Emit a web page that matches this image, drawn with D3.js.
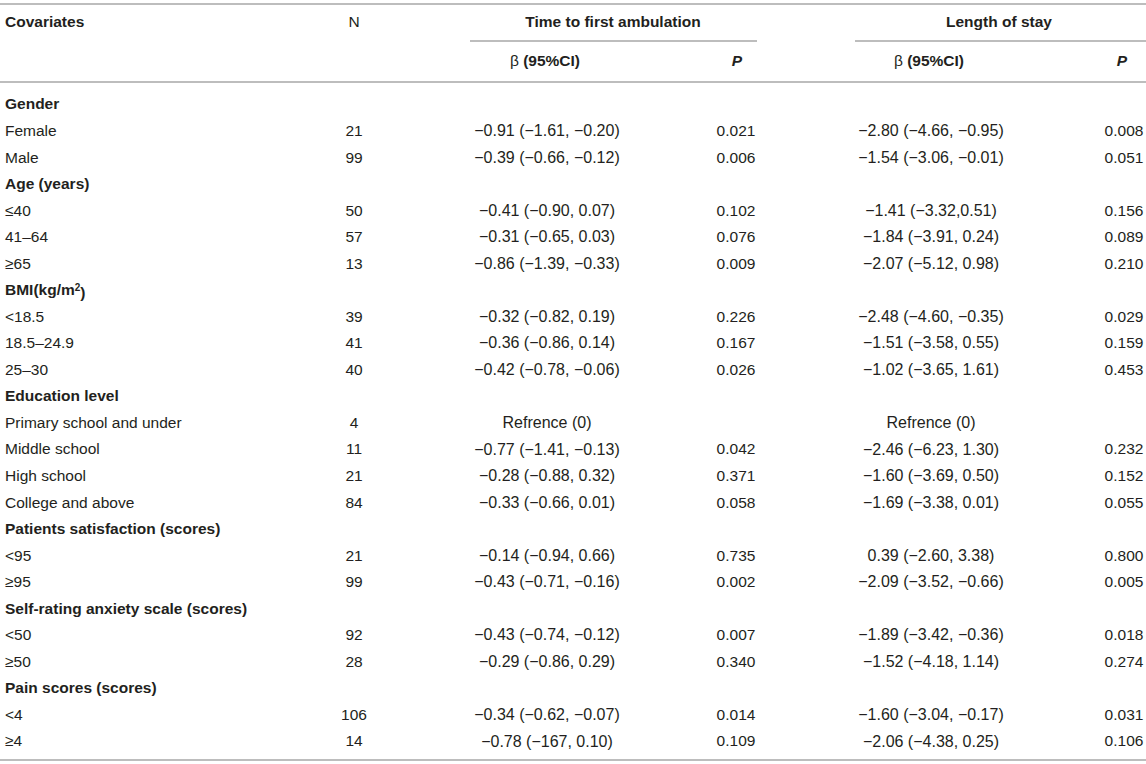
<!DOCTYPE html>
<html>
<head>
<meta charset="utf-8">
<script src="https://cdn.jsdelivr.net/npm/d3@7"></script>
<style>
  body { margin: 0; background: #fff; }
  text { font-family: "Liberation Sans", Arial, Helvetica, sans-serif; font-size: 15.5px; fill: #231f20; }
</style>
</head>
<body>
<script>
// table content
const rowLabels = ["Gender", "Female", "Male",
  "Age (years)", "≤40", "41–64", "≥65",
  "BMI(kg/m2)", "<18.5", "18.5–24.9", "25–30",
  "Education level", "Primary school and under", "Middle school", "High school", "College and above",
  "Patients satisfaction (scores)", "<95", "≥95",
  "Self-rating anxiety scale (scores)", "<50", "≥50",
  "Pain scores (scores)", "<4", "≥4"];
const groupRows = ["Gender", "Age (years)", "BMI(kg/m2)", "Education level",
  "Patients satisfaction (scores)", "Self-rating anxiety scale (scores)", "Pain scores (scores)"];
const nValues = ["", "21", "99", "", "50", "57", "13", "", "39", "41", "40",
  "", "4", "11", "21", "84", "", "21", "99", "", "92", "28", "", "106", "14"];
const betaAmbulation = ["", "−0.91 (−1.61, −0.20)", "−0.39 (−0.66, −0.12)",
  "", "−0.41 (−0.90, 0.07)", "−0.31 (−0.65, 0.03)", "−0.86 (−1.39, −0.33)",
  "", "−0.32 (−0.82, 0.19)", "−0.36 (−0.86, 0.14)", "−0.42 (−0.78, −0.06)",
  "", "Refrence (0)", "−0.77 (−1.41, −0.13)", "−0.28 (−0.88, 0.32)", "−0.33 (−0.66, 0.01)",
  "", "−0.14 (−0.94, 0.66)", "−0.43 (−0.71, −0.16)",
  "", "−0.43 (−0.74, −0.12)", "−0.29 (−0.86, 0.29)",
  "", "−0.34 (−0.62, −0.07)", "−0.78 (−167, 0.10)"];
const pAmbulation = ["", "0.021", "0.006", "", "0.102", "0.076", "0.009",
  "", "0.226", "0.167", "0.026", "", "", "0.042", "0.371", "0.058",
  "", "0.735", "0.002", "", "0.007", "0.340", "", "0.014", "0.109"];
const betaStay = ["", "−2.80 (−4.66, −0.95)", "−1.54 (−3.06, −0.01)",
  "", "−1.41 (−3.32,0.51)", "−1.84 (−3.91, 0.24)", "−2.07 (−5.12, 0.98)",
  "", "−2.48 (−4.60, −0.35)", "−1.51 (−3.58, 0.55)", "−1.02 (−3.65, 1.61)",
  "", "Refrence (0)", "−2.46 (−6.23, 1.30)", "−1.60 (−3.69, 0.50)", "−1.69 (−3.38, 0.01)",
  "", "0.39 (−2.60, 3.38)", "−2.09 (−3.52, −0.66)",
  "", "−1.89 (−3.42, −0.36)", "−1.52 (−4.18, 1.14)",
  "", "−1.60 (−3.04, −0.17)", "−2.06 (−4.38, 0.25)"];
const pStay = ["", "0.008", "0.051", "", "0.156", "0.089", "0.210",
  "", "0.029", "0.159", "0.453", "", "", "0.232", "0.152", "0.055",
  "", "0.800", "0.005", "", "0.018", "0.274", "", "0.031", "0.106"];

const width = 1146, height = 764;
const lineColor = "#bdbdbd";

const svg = d3.select("body").append("svg")
  .attr("width", width)
  .attr("height", height);

// row positions
const yScale = d3.scalePoint()
  .domain(d3.range(rowLabels.length))
  .range([104, 741]);

// column centres
const cols = [
  { values: nValues, x: 354, size: "15.5px" },
  { values: betaAmbulation, x: 547, size: "16px" },
  { values: pAmbulation, x: 736, size: "15.5px" },
  { values: betaStay, x: 931, size: "16px" },
  { values: pStay, x: 1124, size: "15.5px" }
];

// rules
const rules = [
  { x1: 0, x2: width, y: 4 },
  { x1: 470, x2: 757, y: 41 },
  { x1: 855, x2: width, y: 41 },
  { x1: 0, x2: width, y: 82 },
  { x1: 0, x2: width, y: 760 }
];
svg.selectAll("line.rule")
  .data(rules)
  .enter().append("line")
  .attr("class", "rule")
  .attr("x1", d => d.x1)
  .attr("x2", d => d.x2)
  .attr("y1", d => d.y)
  .attr("y2", d => d.y)
  .style("stroke", lineColor)
  .style("stroke-width", 2);

// header
const head = svg.append("g");
head.append("text").attr("x", 5).attr("y", 22).attr("dy", "0.35em")
  .style("font-weight", "bold").text("Covariates");
head.append("text").attr("x", 354).attr("y", 22).attr("dy", "0.35em")
  .style("text-anchor", "middle").text("N");
head.append("text").attr("x", 613).attr("y", 22).attr("dy", "0.35em")
  .style("text-anchor", "middle").style("font-weight", "bold").text("Time to first ambulation");
head.append("text").attr("x", 999).attr("y", 22).attr("dy", "0.35em")
  .style("text-anchor", "middle").style("font-weight", "bold").text("Length of stay");

[545, 929].forEach(x => {
  const t = head.append("text").attr("x", x).attr("y", 61).attr("dy", "0.35em")
    .style("text-anchor", "middle");
  t.append("tspan").text("β ");
  t.append("tspan").style("font-weight", "bold").text("(95%CI)");
});
[737, 1122].forEach(x => {
  head.append("text").attr("x", x).attr("y", 61).attr("dy", "0.35em")
    .style("text-anchor", "middle").style("font-weight", "bold")
    .style("font-style", "italic").text("P");
});

// covariate labels
const labels = svg.selectAll("text.label")
  .data(rowLabels)
  .enter().append("text")
  .attr("class", "label")
  .attr("x", 5)
  .attr("y", (d, i) => yScale(i))
  .attr("dy", "0.35em")
  .style("font-weight", d => groupRows.includes(d) ? "bold" : "normal");

labels.each(function(d) {
  const t = d3.select(this);
  if (d === "BMI(kg/m2)") {
    t.append("tspan").text("BMI(kg/m");
    t.append("tspan").attr("dy", "-0.45em").style("font-size", "10px").text("2");
    t.append("tspan").attr("dy", "0.45em").text(")");
  } else {
    t.text(d);
  }
});

// data columns
cols.forEach(c => {
  svg.append("g").selectAll("text")
    .data(c.values)
    .enter().append("text")
    .attr("x", c.x)
    .attr("y", (d, i) => yScale(i))
    .attr("dy", "0.35em")
    .style("text-anchor", "middle")
    .style("font-size", c.size)
    .text(d => d);
});
</script>
</body>
</html>
